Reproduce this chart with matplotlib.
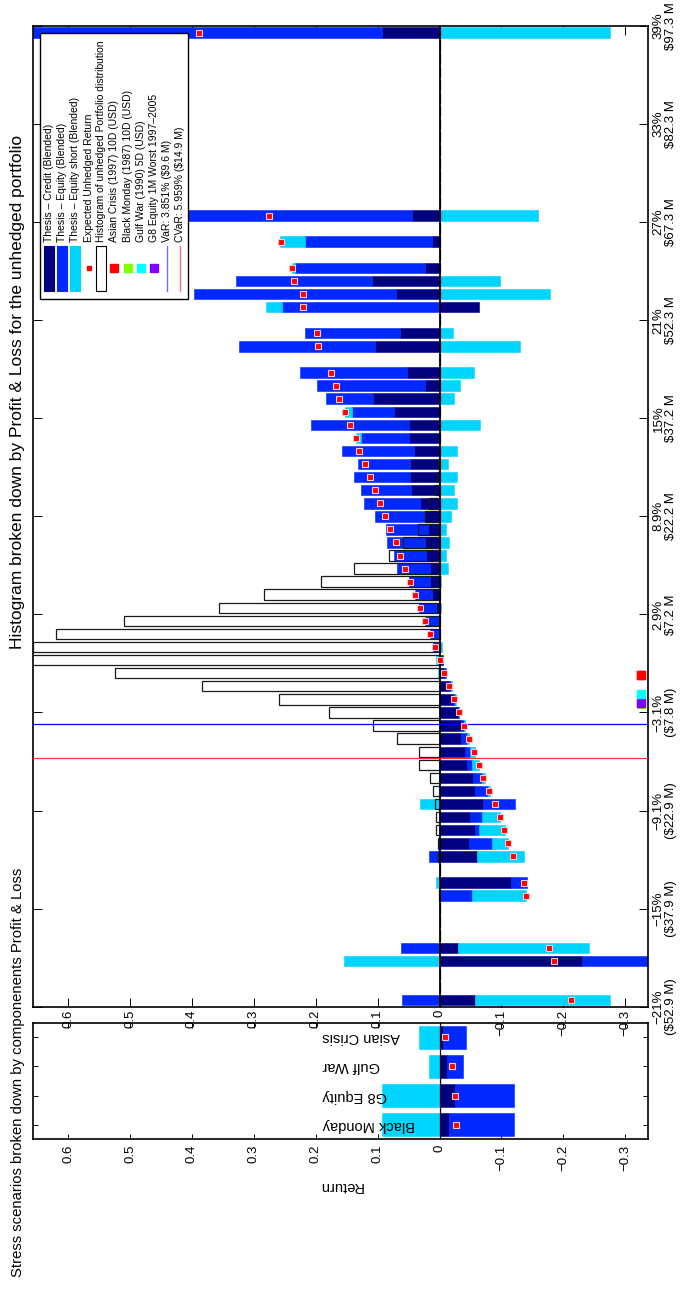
import numpy as np
import matplotlib.pyplot as plt
from matplotlib.patches import Rectangle
from matplotlib.lines import Line2D

plt.rcParams['font.family'] = ['Liberation Sans', 'DejaVu Sans']
plt.rcParams['text.parse_math'] = False

# --- unhedged portfolio histogram, 75 return buckets (bucket centre, fraction) ---
bin_ret = [
    -0.2080, -0.2000, -0.1919, -0.1839, -0.1759, -0.1679, -0.1598, -0.1518, -0.1438, -0.1358,
    -0.1277, -0.1197, -0.1117, -0.1036, -0.0956, -0.0876, -0.0796, -0.0715, -0.0635, -0.0555,
    -0.0474, -0.0394, -0.0314, -0.0234, -0.0153, -0.0073, 0.0007, 0.0087, 0.0168, 0.0248,
    0.0328, 0.0409, 0.0489, 0.0569, 0.0649, 0.0730, 0.0810, 0.0890, 0.0970, 0.1051,
    0.1131, 0.1211, 0.1291, 0.1372, 0.1452, 0.1532, 0.1613, 0.1693, 0.1773, 0.1853,
    0.1934, 0.2014, 0.2094, 0.2174, 0.2255, 0.2335, 0.2415, 0.2496, 0.2576, 0.2656,
    0.2736, 0.2817, 0.2897, 0.2977, 0.3057, 0.3138, 0.3218, 0.3298, 0.3379, 0.3459,
    0.3539, 0.3619, 0.3700, 0.3780, 0.3860]
bin_width = 0.008027

hist_freq = [
    0, 0, 0, 0, 0, 0, 0, 0, 0.001, 0,
    0, 0.003, 0.003, 0.006, 0.006, 0.008, 0.010, 0.016, 0.033, 0.033,
    0.069, 0.107, 0.178, 0.259, 0.384, 0.525, 0.680, 0.656, 0.620, 0.509,
    0.357, 0.284, 0.192, 0.138, 0.082, 0.059, 0.035, 0.024, 0.017, 0.008,
    0.004, 0.003, 0, 0, 0, 0, 0, 0, 0, 0,
    0, 0, 0, 0, 0, 0, 0, 0, 0, 0,
    0, 0, 0, 0, 0, 0, 0, 0, 0, 0,
    0, 0, 0, 0, 0]

credit = [
    -0.058, 0, 0, -0.230, -0.030, 0, 0, 0, -0.003, -0.116,
    0, -0.060, -0.048, -0.058, -0.050, -0.071, -0.057, -0.054, -0.044, -0.041,
    -0.035, -0.034, -0.030, -0.022, -0.015, -0.008, -0.005, 0.000, 0.003, 0.003,
    0.006, 0.012, 0.015, 0.016, 0.022, 0.023, 0.019, 0.024, 0.032, 0.046,
    0.048, 0.047, 0.042, 0.050, 0.050, 0.073, 0.107, 0.024, 0.053, 0,
    0.104, 0.064, 0, -0.063, 0.070, 0.109, 0.023, 0, 0.012, 0,
    0.044, 0, 0, 0, 0, 0, 0, 0, 0, 0,
    0, 0, 0, 0, 0.093]

equity = [
    0.060, 0, 0, -0.110, 0.063, 0, 0, 0, -0.050, -0.026,
    0, 0.017, -0.036, -0.005, -0.018, -0.051, -0.022, -0.014, -0.009, -0.008,
    -0.010, -0.005, -0.001, -0.003, -0.003, -0.003, 0.003, 0.011, 0.013, 0.021,
    0.027, 0.027, 0.034, 0.053, 0.051, 0.062, 0.068, 0.080, 0.090, 0.081,
    0.090, 0.084, 0.115, 0.077, 0.158, 0.069, 0.076, 0.174, 0.172, 0,
    0.220, 0.154, 0, 0.255, 0.327, 0.220, 0.211, 0, 0.206, 0,
    0.390, 0, 0, 0, 0, 0, 0, 0, 0, 0,
    0, 0, 0, 0, 0.570]

eq_short = [
    -0.217, 0, 0, 0.155, -0.211, 0, 0, 0, -0.087, 0.005,
    0, -0.077, -0.027, -0.042, -0.029, 0.032, -0.002, -0.005, -0.011, -0.008,
    -0.003, -0.002, -0.001, -0.001, -0.002, 0.003, 0.003, -0.004, 0.000, 0.000,
    -0.002, 0.000, -0.002, -0.014, -0.011, -0.015, -0.010, -0.018, -0.028, -0.024,
    -0.029, -0.013, -0.029, 0.008, -0.066, 0.010, -0.024, -0.033, -0.055, 0,
    -0.130, -0.021, 0, 0.026, -0.179, -0.097, 0.005, 0, 0.039, 0,
    -0.159, 0, 0, 0, 0, 0, 0, 0, 0, 0,
    0, 0, 0, 0, -0.275]

nan = np.nan
exp_ret = [
    -0.213, nan, nan, -0.185, -0.177, nan, nan, nan, -0.140, -0.137,
    nan, -0.118, -0.111, -0.104, -0.097, -0.089, -0.080, -0.071, -0.064, -0.056,
    -0.047, -0.040, -0.032, -0.024, -0.016, -0.008, 0.000, 0.008, 0.016, 0.024,
    0.032, 0.040, 0.048, 0.055, 0.064, 0.071, 0.080, 0.088, 0.096, 0.104,
    0.112, 0.120, 0.130, 0.135, 0.144, 0.153, 0.162, 0.167, 0.175, nan,
    0.196, 0.198, nan, 0.220, 0.221, 0.235, 0.238, nan, 0.256, nan,
    0.275, nan, nan, nan, nan, nan, nan, nan, nan, nan,
    nan, nan, nan, nan, 0.389]

ret_lo, ret_hi = -0.212, 0.390
ret_ticklabels = ['\u221221%\n($52.9 M)', '\u221215%\n($37.9 M)', '\u22129.1%\n($22.9 M)',
                  '\u22123.1%\n($7.8 M)', '2.9%\n$7.2 M', '8.9%\n$22.2 M', '15%\n$37.2 M',
                  '21%\n$52.3 M', '27%\n$67.3 M', '33%\n$82.3 M', '39%\n$97.3 M']
var_ret, cvar_ret = -0.03851, -0.05959

# --- stress scenarios ---
scenarios = ['Black Monday', 'G8 Equity', 'Gulf War', 'Asian Crisis']
st_credit = [-0.016, -0.025, -0.012, -0.005]
st_equity = [-0.104, -0.095, -0.026, -0.038]
st_short = [0.093, 0.093, 0.017, 0.033]
st_total = [-0.0262, -0.0254, -0.0200, -0.0086]
st_colors = ['#80ff00', '#8000ff', '#00ffff', '#ff0000']

val_ticks = [0.6, 0.5, 0.4, 0.3, 0.2, 0.1, 0, -0.1, -0.2, -0.3]
val_labels = ['0.6', '0.5', '0.4', '0.3', '0.2', '0.1', '0',
              '\u22120.1', '\u22120.2', '\u22120.3']

c_credit, c_equity, c_short = '#000080', '#0028ff', '#00d4ff'
xlims = (0.6564, -0.3373)

W, H = 684.0, 1289.0
fig = plt.figure(figsize=(W / 100, H / 100), dpi=100)


def fx(x):
    return x / W


def fy(y):
    return 1 - y / H


def stacked_barh(ax, pos, series, colors, height):
    pos_acc = np.zeros(len(pos))
    neg_acc = np.zeros(len(pos))
    for vals, col in zip(series, colors):
        vals = np.asarray(vals, dtype=float)
        left = np.where(vals >= 0, pos_acc, neg_acc)
        ax.barh(pos, vals, height=height, left=left, color=col,
                edgecolor=col, linewidth=0.4, zorder=2)
        pos_acc = pos_acc + np.where(vals >= 0, vals, 0)
        neg_acc = neg_acc + np.where(vals < 0, vals, 0)


ax2 = fig.add_axes([fx(33.2), fy(1139.3), (648.3 - 33.2) / W, (1139.3 - 1022.7) / H])
ax1 = fig.add_axes([fx(33.2), fy(1006.7), (648.3 - 33.2) / W, (1006.7 - 26.0) / H])
ax1.set_zorder(3)

# histogram panel
stacked_barh(ax1, bin_ret, [credit, equity, eq_short],
             [c_credit, c_equity, c_short], 0.8 * bin_width)
ax1.barh(bin_ret, hist_freq, height=0.8 * bin_width, facecolor='none',
         edgecolor='#1a1a1a', linewidth=0.9, zorder=3)
ax1.axvline(0, color='black', lw=1.3, zorder=4)
ax1.plot(exp_ret, bin_ret, 's', ms=4.2, mfc='#ff0000', mec='#ffc8c8', mew=0.8, zorder=5)
ax1.axhline(var_ret, color='#0000ff', lw=0.9, zorder=4)
ax1.axhline(cvar_ret, color='#ff3030', lw=0.9, zorder=4)
for r, col in zip(st_total, st_colors):
    ax1.plot([-0.325], [r], 's', ms=5.8, mfc=col, mec=col, zorder=5)
# red (Asian Crisis) marker sits on its own
ax1.plot([-0.325], [st_total[3]], 's', ms=5.8, mfc='#ff0000', mec='#ff0000', zorder=6)

ax1.set_xlim(*xlims)
ax1.set_ylim(ret_lo, ret_hi)
ax1.set_xticks(val_ticks)
ax1.set_xticklabels(val_labels, rotation=90, va='top', ha='center', fontsize=9.5)
ax1.set_yticks(np.linspace(ret_lo, ret_hi, 11))
ax1.set_yticklabels(ret_ticklabels, rotation=90, va='center', ha='left',
                    ma='center', fontsize=9.5, linespacing=1.05)
ax1.tick_params(axis='both', direction='in', length=6.5, width=0.7,
                top=True, right=True, left=True, bottom=True,
                labelleft=False, labelright=True)
ax1.tick_params(axis='x', pad=2)
ax1.tick_params(axis='y', pad=3)
for sp in ax1.spines.values():
    sp.set_linewidth(1.2)

# stress scenario panel
ypos = np.arange(1, len(scenarios) + 1)
stacked_barh(ax2, ypos, [st_credit, st_equity, st_short],
             [c_credit, c_equity, c_short], 0.8)
ax2.axvline(0, color='black', lw=0.9, zorder=4)
ax2.plot(st_total, ypos, 's', ms=4.2, mfc='#ff0000', mec='#ffc8c8', mew=0.8, zorder=5)
for y, name in zip(ypos, scenarios):
    ax2.text(0.1887, y, name, rotation=180, ha='left', va='center', fontsize=10.5)
ax2.set_xlim(*xlims)
ax2.set_ylim(0.5, 4.5)
ax2.set_xticks(val_ticks)
ax2.set_xticklabels(val_labels, rotation=90, va='top', ha='center', fontsize=9.5)
ax2.set_yticks(ypos)
ax2.set_yticklabels([])
ax2.tick_params(axis='both', direction='in', length=3.3, width=0.7,
                top=True, right=True, left=True, bottom=True)
ax2.tick_params(axis='x', pad=4)
ax2.set_xlabel('Return', rotation=180, fontsize=10.5, labelpad=6)
for sp in ax2.spines.values():
    sp.set_linewidth(1.2)

# titles
fig.text(fx(18), fy(392), 'Histogram broken down by Profit & Loss for the unhedged portfolio',
         rotation=90, ha='center', va='center', fontsize=12.5)
fig.text(fx(18), fy(1072), 'Stress scenarios broken down by componenents Profit & Loss',
         rotation=90, ha='center', va='center', fontsize=10.7)

# legend, drawn by hand so the entries read along the rotated page
fig.add_artist(Rectangle((fx(40.3), fy(299)), (188.4 - 40.3) / W, (299 - 32.7) / H,
                         transform=fig.transFigure, facecolor='white',
                         edgecolor='black', lw=1.0, zorder=10))
leg_items = [
    ('Thesis \u2013 Credit (Blended)', 'patch', c_credit),
    ('Thesis \u2013 Equity (Blended)', 'patch', c_equity),
    ('Thesis \u2013 Equity short (Blended)', 'patch', c_short),
    ('Expected Unhedged Return', 'dot', '#ff0000'),
    ('Histogram of unhedged Portfolio distribution', 'hist', 'white'),
    ('Asian Crisis (1997) 10D (USD)', 'square', '#ff0000'),
    ('Black Monday (1987) 10D (USD)', 'square', '#80ff00'),
    ('Gulf War (1990) 5D (USD)', 'square', '#00ffff'),
    ('G8 Equity 1M Worst 1997\u20132005', 'square', '#8000ff'),
    ('VaR: 3.851% ($9.6 M)', 'line', '#7070ff'),
    ('CVaR: 5.959% ($14.9 M)', 'line', '#ff7070'),
]
leg_x = [49.2, 62.2, 75.3, 88.6, 101.2, 114.3, 127.8, 141.2, 153.9, 167.0, 180.0]
for (label, kind, col), cx in zip(leg_items, leg_x):
    if kind in ('patch', 'hist'):
        ec = 'black' if kind == 'hist' else col
        fig.add_artist(Rectangle((fx(cx - 5.2), fy(291)), 10.4 / W, 45 / H,
                                 transform=fig.transFigure, facecolor=col,
                                 edgecolor=ec, lw=0.8, zorder=11))
    elif kind == 'dot':
        fig.add_artist(Line2D([fx(cx)], [fy(268.3)], transform=fig.transFigure,
                              marker='s', ms=3.5, mfc=col, mec=col, zorder=11))
    elif kind == 'square':
        fig.add_artist(Line2D([fx(cx)], [fy(268.3)], transform=fig.transFigure,
                              marker='s', ms=6, mfc=col, mec=col, zorder=11))
    else:
        fig.add_artist(Line2D([fx(cx), fx(cx)], [fy(246), fy(291)],
                              transform=fig.transFigure, color=col, lw=1.0, zorder=11))
    fig.text(fx(cx), fy(241.7), label, rotation=90, ha='center', va='bottom',
             fontsize=7.5, zorder=12)

fig.savefig('out.png', dpi=100)
